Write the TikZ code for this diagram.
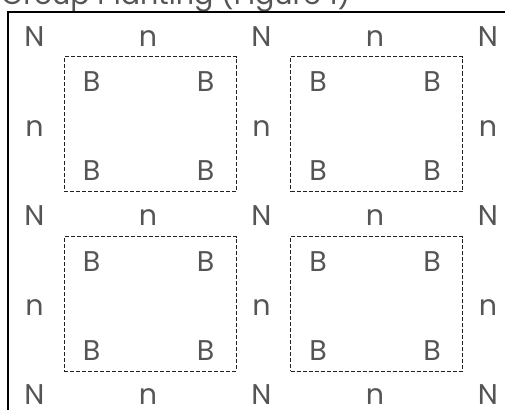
\documentclass[tikz,border=0pt]{standalone}
\usepackage{fontspec}
\setmainfont{Poppins}
\usetikzlibrary{calc}
\definecolor{txtgray}{HTML}{555555}
\definecolor{bedgray}{HTML}{222222}

\begin{document}
\begin{tikzpicture}[x=1pt,y=-1pt]
  % Styles
  \tikzset{
    lbl/.style={text=txtgray, font=\fontsize{28.5}{30}\selectfont, inner sep=0pt, anchor=base},
    bed/.style={draw=bedgray, dash pattern=on 4pt off 2pt, line width=1pt,
                minimum width=172pt, minimum height=134.5pt, inner sep=0pt},
  }

  % Cadre de la page
  \useasboundingbox (0,0) rectangle (505,409);

  % Titre
  \node[lbl, anchor=base west] (titre) at (1,4.5) {Group Planting (Figure 1)};

  % Cadre extérieur
  \draw[line width=2pt] (8,12.5) rectangle (540,440);

  % Coins : N
  \foreach \i/\x in {0/34.5,1/261.5,2/488}
    \foreach \j/\y in {0/46.5,1/225.5,2/404.5}
      \node[lbl] (N\i\j) at (\x,\y) {N};

  % Bords horizontaux : n
  \foreach \i/\x in {0/148,1/375}
    \foreach \j/\y in {0/46.5,1/225.5,2/404.5}
      \node[lbl] (nh\i\j) at (\x,\y) {n};

  % Bords verticaux : n
  \foreach \i/\x in {0/34.5,1/261.5,2/488}
    \foreach \j/\y in {0/136.5,1/315.5}
      \node[lbl] (nv\i\j) at (\x,\y) {n};

  % Massifs et B
  \foreach \i in {0,1}
    \foreach \j in {0,1}{
      \pgfmathsetmacro\bx{150+226.5*\i}
      \pgfmathsetmacro\by{124.25+179.5*\j}
      \node[bed] (bed\i\j) at (\bx,\by) {};
      \node[lbl] (Bnw\i\j) at ($(bed\i\j.north west)+(28,35)$) {B};
      \node[lbl] (Bne\i\j) at ($(bed\i\j.north east)+(-31,35)$) {B};
      \node[lbl] (Bsw\i\j) at ($(bed\i\j.south west)+(28,-11.5)$) {B};
      \node[lbl] (Bse\i\j) at ($(bed\i\j.south east)+(-31,-11.5)$) {B};
    }

\end{tikzpicture}
\end{document}
